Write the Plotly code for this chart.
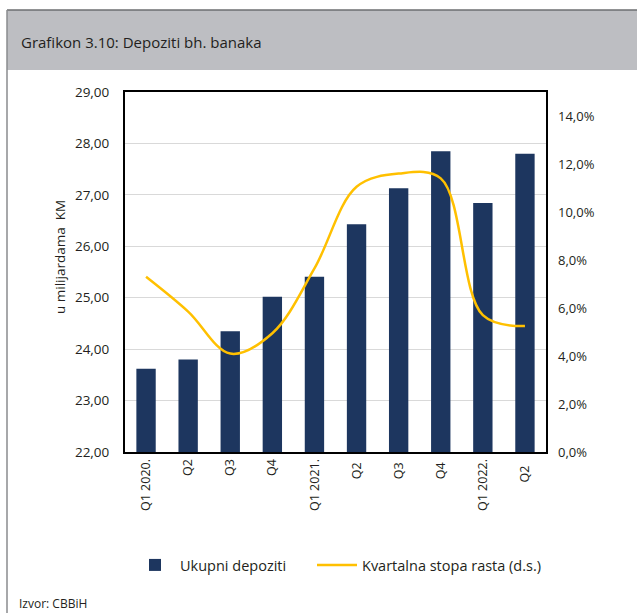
import plotly.graph_objects as go

categories = ["Q1 2020.", "Q2", "Q3", "Q4", "Q1 2021.", "Q2 ", "Q3 ", "Q4 ", "Q1 2022.", "Q2  "]
deposits = [23.62, 23.80, 24.35, 25.02, 25.41, 26.43, 27.13, 27.85, 26.84, 27.80]
growth = [7.3, 5.85, 4.1, 4.95, 7.65, 11.05, 11.6, 11.4, 5.7, 5.25]
left_ticks = [22, 23, 24, 25, 26, 27, 28, 29]
right_ticks = [0, 2, 4, 6, 8, 10, 12, 14]
right_labels = ["0,0%", "2,0%", "4,0%", "6,0%", "8,0%", "10,0%", "12,0%", "14,0%"]

W, H = 637, 613
L, R, T, B = 125, 546, 92, 452


def px(x):
    return (x - L) / (R - L)


def py(y):
    return (B - y) / (B - T)


FONT = "Open Sans"
TXT = "#231f20"
fig = go.Figure()
fig.add_trace(go.Bar(
    x=categories, y=deposits, name="Ukupni depoziti",
    marker=dict(color="#1d365f", line=dict(width=0)),
    yaxis="y", legend="legend",
))
fig.add_trace(go.Scatter(
    x=categories, y=growth, name="Kvartalna stopa rasta (d.s.)",
    mode="lines", line=dict(color="#FFC000", width=2.5, shape="spline", smoothing=1.0),
    yaxis="y2", legend="legend2",
))

leg_common = dict(orientation="h", yanchor="middle", font=dict(size=14.5, color=TXT),
                  itemwidth=40, bgcolor="rgba(0,0,0,0)")

fig.update_layout(
    width=W, height=H,
    margin=dict(l=L, r=W - R, t=T, b=H - B, autoexpand=False),
    paper_bgcolor="white", plot_bgcolor="white",
    separators=",.",
    font=dict(family=FONT, size=12, color=TXT),
    bargap=0.54,
    showlegend=True,
    legend=dict(x=px(130), y=py(565), xanchor="left", **leg_common),
    legend2=dict(x=px(312), y=py(565), xanchor="left", **leg_common),
    xaxis=dict(
        type="category", tickangle=-90, showline=True, linecolor="black", linewidth=2,
        mirror=True, showgrid=False, ticks="", tickfont=dict(size=12.5),
    ),
    yaxis=dict(
        range=[22, 29], tickvals=left_ticks, tickformat=".2f",
        showline=True, linecolor="black", linewidth=2, mirror=True,
        showgrid=True, gridcolor="#d9d9d9", gridwidth=1,
        ticks="", ticklabelstandoff=11, tickfont=dict(size=13.5), zeroline=False,
    ),
    yaxis2=dict(
        range=[0, 15], tickvals=right_ticks, ticktext=right_labels,
        overlaying="y", side="right", showgrid=False, showline=False,
        ticks="", ticklabelstandoff=11, tickfont=dict(size=13), zeroline=False,
    ),
    shapes=[
        dict(type="rect", xref="paper", yref="paper", x0=px(7), x1=px(640), y0=py(70), y1=py(10),
             fillcolor="#bdbec2", line=dict(width=0), layer="below"),
        dict(type="line", xref="paper", yref="paper", x0=px(7), x1=px(640), y0=py(10), y1=py(10),
             line=dict(color="#6d6e71", width=1.5)),
        dict(type="line", xref="paper", yref="paper", x0=px(7), x1=px(7), y0=py(10), y1=py(620),
             line=dict(color="#8a8b8e", width=1.5)),
    ],
    annotations=[
        dict(text="Grafikon 3.10: Depoziti bh. banaka", xref="paper", yref="paper",
             x=px(19), y=py(42), xanchor="left", yanchor="middle", showarrow=False,
             font=dict(size=15, color=TXT)),
        dict(text="u milijardama  KM", xref="paper", yref="paper", textangle=-90,
             x=px(60), y=py(257), xanchor="center", yanchor="middle", showarrow=False,
             font=dict(size=13.5, color=TXT)),
        dict(text="Izvor: CBBiH", xref="paper", yref="paper",
             x=px(17), y=py(603), xanchor="left", yanchor="middle", showarrow=False,
             font=dict(size=12, color=TXT)),
    ],
)

fig.write_html(
    "out.html",
    config={"displayModeBar": False},
    post_script="document.body.style.margin='0';document.body.style.overflow='hidden';",
)
